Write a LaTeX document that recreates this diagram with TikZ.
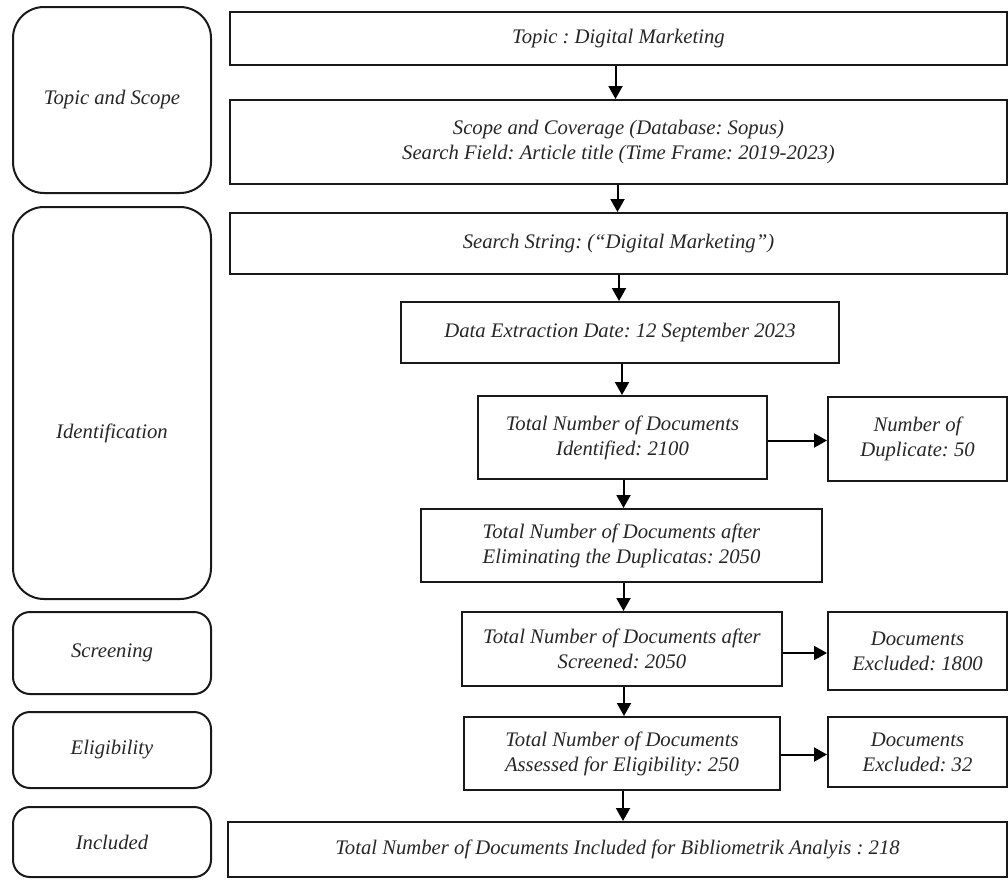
\documentclass[tikz,border=0pt]{standalone}
\usepackage{fontspec}
\setmainfont{Liberation Serif}
\usetikzlibrary{arrows.meta}
\newcommand\boxfont{\frenchspacing\fontsize{20.7}{25}\selectfont\itshape}
\begin{document}
\begin{tikzpicture}[x=1pt,y=-1pt,
  box/.style={draw=black!90, line width=2pt, inner sep=2pt, align=center,
    font=\boxfont, text=black!85, anchor=center},
  stage/.style={box, rounded corners=17pt},
  bigstage/.style={box, rounded corners=31pt},
  arr/.style={line width=2pt, draw=black, -{Triangle[length=13pt,width=14pt]}}]
\useasboundingbox (0,0) rectangle (1008,879);
% left stage boxes
\node[bigstage, minimum width=198pt, minimum height=186pt] (ts) at (112,100) {Topic and Scope};
\node[bigstage, minimum width=198pt, minimum height=392pt] (idn) at (112,403) {};
\node[font=\boxfont, text=black!85] (idnlabel) at (112,433) {Identification};
\node[stage, minimum width=198pt, minimum height=82pt] (scr) at (112,653) {Screening};
\node[stage, minimum width=198pt, minimum height=76pt] (eli) at (112,750) {Eligibility};
\node[stage, minimum width=198pt, minimum height=70pt] (inc) at (112,842) {Included};
% main flow
\node[box, minimum width=777pt, minimum height=53pt] (topic) at (618.5,38.5) {Topic : Digital Marketing};
\node[box, minimum width=777pt, minimum height=84pt] (scope) at (618.5,142) {Scope and Coverage (Database: Sopus)\\Search Field: Article title (Time Frame: 2019-2023)};
\node[box, minimum width=777pt, minimum height=61pt] (search) at (618.5,243.5) {Search String: (“Digital Marketing”)};
\node[box, minimum width=438pt, minimum height=61pt] (extract) at (620,332.5) {Data Extraction Date: 12 September 2023};
\node[box, minimum width=289pt, minimum height=83pt] (ident) at (622.5,437.5) {Total Number of Documents\\Identified: 2100};
\node[box, minimum width=179pt, minimum height=84pt] (dup) at (917.5,439) {Number of\\Duplicate: 50};
\node[box, minimum width=401pt, minimum height=73pt] (elim) at (621.5,545.5) {Total Number of Documents after\\Eliminating the Duplicatas: 2050};
\node[box, minimum width=320pt, minimum height=74pt] (screened) at (622,649) {Total Number of Documents after\\Screened: 2050};
\node[box, minimum width=179pt, minimum height=78pt] (exa) at (917.5,651) {Documents\\Excluded: 1800};
\node[box, minimum width=316pt, minimum height=73pt] (elig) at (622,753.5) {Total Number of Documents\\Assessed for Eligibility: 250};
\node[box, minimum width=179pt, minimum height=70pt] (exb) at (917.5,752) {Documents\\Excluded: 32};
\node[box, minimum width=779pt, minimum height=55pt] (incl) at (617.5,849.5) {Total Number of Documents Included for Bibliometrik Analyis : 218};
% connectors
\draw[arr] ([xshift=-3pt]topic.south) -- ([xshift=-3pt]scope.north);
\draw[arr] ([xshift=-1pt]scope.south) -- ([xshift=-1pt]search.north);
\draw[arr] ([xshift=-1pt]extract.north |- search.south) -- ([xshift=-1pt]extract.north);
\draw[arr] ([xshift=2pt]extract.south) -- ([xshift=2pt]extract.south |- ident.north);
\draw[arr] ([xshift=1pt]ident.south) -- ([xshift=1pt]ident.south |- elim.north);
\draw[arr] ([xshift=2pt]elim.south) -- ([xshift=2pt]elim.south |- screened.north);
\draw[arr] ([xshift=2pt]screened.south) -- ([xshift=2pt]screened.south |- elig.north);
\draw[arr] ([xshift=1pt]elig.south) -- ([xshift=1pt]elig.south |- incl.north);
\draw[arr] ([yshift=-3pt]ident.east) -- ([yshift=-3pt]ident.east -| dup.west);
\draw[arr] ([yshift=-4pt]screened.east) -- ([yshift=-4pt]screened.east -| exa.west);
\draw[arr] ([yshift=-1pt]elig.east) -- ([yshift=-1pt]elig.east -| exb.west);
\end{tikzpicture}
\end{document}
